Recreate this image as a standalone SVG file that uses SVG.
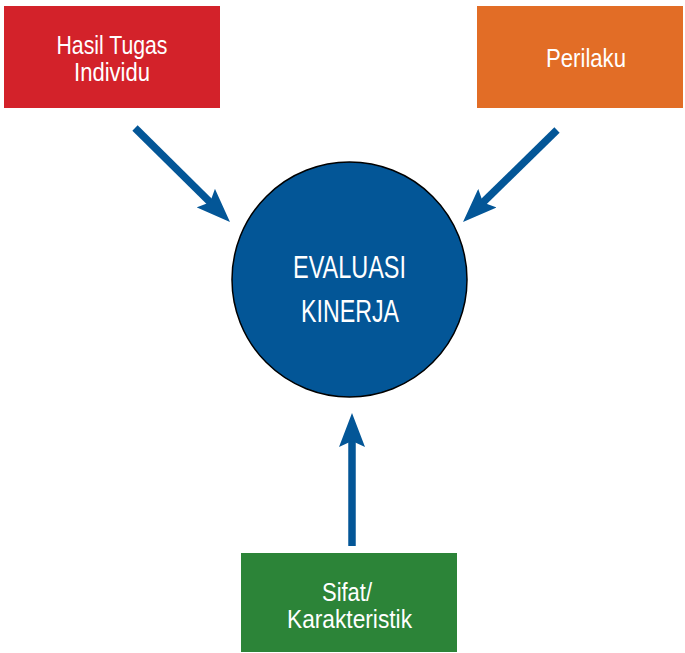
<svg xmlns="http://www.w3.org/2000/svg" width="685" height="653" viewBox="0 0 685 653">
<style>
.lbl{font-family:"Liberation Sans",Arial,sans-serif;fill:#ffffff;text-anchor:middle}
.conn{stroke:#035697;stroke-width:7.5;fill:none;marker-end:url(#ah)}
</style>
<defs>
<marker id="ah" viewBox="0 0 34 26" refX="8" refY="13" markerWidth="34" markerHeight="26" markerUnits="userSpaceOnUse" orient="auto">
<path d="M0,0 L34,13 L0,26 L6,13 Z" fill="#035697"/>
</marker>
</defs>
<rect width="685" height="653" fill="#ffffff"/>
<g id="connectors">
<path class="conn" d="M135,128 L211.5,203.7"/>
<path class="conn" d="M557,130 L481.6,203.8"/>
<path class="conn" d="M352,546 L352,439"/>
</g>
<g id="hasil-tugas">
<rect x="4" y="6" width="216" height="102" fill="#D3222A"/>
<text class="lbl" font-size="26" x="112" y="54" textLength="111" lengthAdjust="spacingAndGlyphs">Hasil Tugas</text>
<text class="lbl" font-size="26" x="112" y="81" textLength="76" lengthAdjust="spacingAndGlyphs">Individu</text>
</g>
<g id="perilaku">
<rect x="477" y="6" width="206" height="102" fill="#E26D26"/>
<text class="lbl" font-size="26" x="586" y="67" textLength="80" lengthAdjust="spacingAndGlyphs">Perilaku</text>
</g>
<g id="evaluasi">
<circle cx="349.5" cy="279.5" r="117.5" fill="#035697" stroke="#000000" stroke-width="1.5"/>
<text class="lbl" font-size="32" x="349.5" y="278" textLength="113" lengthAdjust="spacingAndGlyphs">EVALUASI</text>
<text class="lbl" font-size="32" x="350" y="322" textLength="98" lengthAdjust="spacingAndGlyphs">KINERJA</text>
</g>
<g id="sifat">
<rect x="241" y="553" width="216" height="99" fill="#2C8438"/>
<text class="lbl" font-size="26" x="347" y="601" textLength="50" lengthAdjust="spacingAndGlyphs">Sifat/</text>
<text class="lbl" font-size="26" x="349.5" y="628" textLength="125" lengthAdjust="spacingAndGlyphs">Karakteristik</text>
</g>
</svg>
